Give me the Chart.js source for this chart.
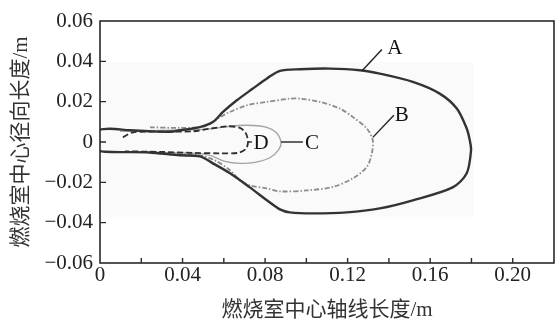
<!DOCTYPE html>
<html>
<head>
<meta charset="utf-8">
<script src="https://cdn.jsdelivr.net/npm/chart.js@4/dist/chart.umd.min.js"></script>
<style>
  html, body { margin: 0; padding: 0; background: #fff; }
  #c { display: block; }
</style>
</head>
<body>
<canvas id="c" width="555" height="324"></canvas>
<script>
// Flame contour outlines (axial position x, radial position y, in metres)
const curveA_x = [0, 0.0048, 0.0145, 0.024, 0.034, 0.0387, 0.0484, 0.0547, 0.0596, 0.0663, 0.0741, 0.0809, 0.0872, 0.0969, 0.1114, 0.1259, 0.1356, 0.1516, 0.1646, 0.1729, 0.1777, 0.1792, 0.1798, 0.1777, 0.1709, 0.1516, 0.1356, 0.1196, 0.1031, 0.092, 0.0872, 0.0809, 0.0726, 0.063, 0.0547, 0.0484, 0.0387, 0.024, 0.0097, 0.0024, 0];
const curveA_y = [0.0062, 0.0066, 0.0058, 0.0053, 0.0051, 0.0058, 0.0074, 0.0099, 0.0149, 0.0207, 0.0265, 0.0315, 0.0353, 0.0361, 0.0364, 0.0356, 0.0339, 0.0298, 0.0240, 0.0166, 0.0067, 0.0008, -0.0041, -0.0155, -0.0225, -0.0289, -0.0329, -0.0349, -0.0354, -0.0349, -0.0334, -0.0289, -0.0225, -0.0155, -0.0106, -0.0071, -0.0066, -0.0052, -0.0050, -0.0048, -0.0046];

const curveB_x = [0.0242, 0.0387, 0.0508, 0.0581, 0.063, 0.0712, 0.0809, 0.092, 0.0969, 0.1065, 0.1162, 0.1225, 0.1293, 0.1322, 0.1317, 0.1293, 0.1225, 0.1128, 0.1002, 0.0872, 0.0809, 0.0726, 0.0678, 0.063, 0.0557, 0.0484, 0.034, 0.0242];
const curveB_y = [0.0073, 0.0070, 0.0078, 0.0123, 0.0149, 0.0182, 0.0199, 0.0215, 0.0215, 0.0199, 0.0166, 0.0124, 0.0067, 0.0008, -0.0056, -0.0124, -0.0180, -0.0223, -0.0240, -0.0245, -0.0230, -0.0215, -0.0190, -0.0140, -0.0091, -0.0066, -0.0059, -0.0056];

const curveC_x = [0.0097, 0.029, 0.0484, 0.0557, 0.063, 0.0712, 0.0799, 0.0852, 0.0877, 0.0867, 0.0823, 0.0751, 0.0678, 0.0605, 0.0533, 0.046, 0.029, 0.0097];
const curveC_y = [0.0053, 0.0058, 0.0061, 0.0068, 0.0078, 0.0083, 0.0075, 0.0048, 0, -0.0036, -0.0078, -0.0101, -0.0106, -0.0096, -0.0066, -0.0056, -0.0051, -0.0051];

const curveD_x = [0.0111, 0.016, 0.029, 0.045, 0.0533, 0.062, 0.0678, 0.0707, 0.0717, 0.0707, 0.0668, 0.0581, 0.046, 0.029, 0.0121];
const curveD_y = [0.0023, 0.0048, 0.0051, 0.0053, 0.0066, 0.0078, 0.0070, 0.0043, 0, -0.0034, -0.0054, -0.0056, -0.0054, -0.0049, -0.0046];

// Callout labels with their leader lines
const calloutNames = ['A', 'B', 'C', 'D'];
const calloutTextX = [0.1429, 0.1462, 0.1027, 0.0780];
const calloutTextY = [0.0470, 0.0137, 0, 0];
const leaderX0 = [0.1269, 0.1322, 0.0877, 0.0717];
const leaderY0 = [0.0352, 0.0023, 0, 0];
const leaderX1 = [0.1366, 0.1424, 0.0983, 0.0736];
const leaderY1 = [0.0459, 0.0133, 0, 0];

// Axis tick labels (ticks every 0.02, labels on alternate x ticks)
const xTickValues = [0, 0.02, 0.04, 0.06, 0.08, 0.10, 0.12, 0.14, 0.16, 0.18, 0.20, 0.22];
const xTickLabels = ['0', '', '0.04', '', '0.08', '', '0.12', '', '0.16', '', '0.20', ''];
const yTickValues = [0.06, 0.04, 0.02, 0, -0.02, -0.04, -0.06];
const yTickLabels = ['0.06', '0.04', '0.02', '0', '\u22120.02', '\u22120.04', '\u22120.06'];

const xTitle = '燃烧室中心轴线长度/m';
const yTitle = '燃烧室中心径向长度/m';

const toPoints = (xs, ys) => xs.map((x, i) => ({ x: x, y: ys[i] }));

const SERIF = "'Liberation Serif', 'Noto Sans CJK SC', serif";
const INK = '#2a2a2a';

function nearestLabel(value, values, labels) {
  let best = 0;
  for (let i = 1; i < values.length; i++) {
    if (Math.abs(values[i] - value) < Math.abs(values[best] - value)) best = i;
  }
  return labels[best];
}

const leaderSets = calloutNames.map((n, i) => ({
  label: 'leader ' + n,
  data: toPoints([leaderX0[i], leaderX1[i]], [leaderY0[i], leaderY1[i]]),
  showLine: true, borderColor: '#222', borderWidth: 1.4, pointRadius: 0, tension: 0, order: 0
}));

const framePlugin = {
  id: 'frame',
  beforeDatasetsDraw(chart) {
    const { ctx, scales: { x, y } } = chart;
    // very faint shaded region behind the contours
    ctx.save();
    ctx.fillStyle = '#fafafa';
    const l = x.getPixelForValue(0), r = x.getPixelForValue(0.181);
    const t = y.getPixelForValue(0.0395), b = y.getPixelForValue(-0.037);
    ctx.fillRect(l, t, r - l, b - t);
    ctx.restore();
  },
  afterDatasetsDraw(chart) {
    const { ctx, chartArea: a, scales: { x, y } } = chart;
    ctx.save();
    // box outline
    ctx.strokeStyle = INK;
    ctx.lineWidth = 1.6;
    ctx.strokeRect(a.left, a.top, a.right - a.left, a.bottom - a.top);
    // inward tick marks
    ctx.lineWidth = 1.4;
    ctx.beginPath();
    x.ticks.forEach(t => {
      const px = x.getPixelForValue(t.value);
      if (px <= a.left + 1 || px >= a.right - 1) return;
      ctx.moveTo(px, a.bottom);
      ctx.lineTo(px, a.bottom - 5);
    });
    y.ticks.forEach(t => {
      const py = y.getPixelForValue(t.value);
      if (py <= a.top + 1 || py >= a.bottom - 1) return;
      ctx.moveTo(a.left, py);
      ctx.lineTo(a.left + 6, py);
    });
    ctx.stroke();
    // callout letters
    ctx.fillStyle = '#111';
    ctx.font = '21px ' + SERIF;
    ctx.textAlign = 'center';
    ctx.textBaseline = 'middle';
    calloutNames.forEach((n, i) => {
      ctx.fillText(n, x.getPixelForValue(calloutTextX[i]), y.getPixelForValue(calloutTextY[i]) + 1);
    });
    ctx.restore();
  }
};

new Chart(document.getElementById('c'), {
  type: 'scatter',
  data: {
    datasets: [
      { label: 'C', data: toPoints(curveC_x, curveC_y), showLine: true, borderColor: '#a3a3a3', borderWidth: 1.3, pointRadius: 0, tension: 0.3, order: 4 },
      { label: 'B', data: toPoints(curveB_x, curveB_y), showLine: true, borderColor: '#8c8c8c', borderWidth: 1.8, borderDash: [5, 2, 1.5, 2], pointRadius: 0, tension: 0.3, order: 3 },
      { label: 'D', data: toPoints(curveD_x, curveD_y), showLine: true, borderColor: '#2e2e2e', borderWidth: 1.8, borderDash: [6, 3], pointRadius: 0, tension: 0.3, order: 2 },
      { label: 'A', data: toPoints(curveA_x, curveA_y), showLine: true, borderColor: '#333333', borderWidth: 2.4, pointRadius: 0, tension: 0.3, order: 1 },
      ...leaderSets
    ]
  },
  options: {
    responsive: false,
    animation: false,
    layout: { padding: { top: 21, right: 1, left: 0, bottom: 0 } },
    plugins: { legend: { display: false }, tooltip: { enabled: false } },
    scales: {
      x: {
        type: 'linear', min: 0, max: 0.22,
        afterBuildTicks: s => { s.ticks = xTickValues.map(v => ({ value: v })); },
        afterFit: s => { s.height = 61; },
        grid: { display: false, drawTicks: false },
        border: { display: false },
        ticks: {
          padding: 0, color: '#222', font: { family: SERIF, size: 21 }, maxRotation: 0, autoSkip: false,
          callback: v => nearestLabel(v, xTickValues, xTickLabels)
        },
        title: { display: true, text: xTitle, color: '#333', font: { family: SERIF, size: 21 }, padding: { top: 0, bottom: 1 } }
      },
      y: {
        type: 'linear', min: -0.06, max: 0.06,
        afterBuildTicks: s => { s.ticks = yTickValues.map(v => ({ value: v })); },
        afterFit: s => { s.width = 100; },
        grid: { display: false, drawTicks: false },
        border: { display: false },
        ticks: {
          padding: 7, color: '#222', font: { family: SERIF, size: 21 }, autoSkip: false,
          callback: v => nearestLabel(v, yTickValues, yTickLabels)
        },
        title: { display: true, text: yTitle, color: '#333', font: { family: SERIF, size: 21 }, padding: { top: 9, bottom: 0 } }
      }
    }
  },
  plugins: [framePlugin]
});
</script>
</body>
</html>
